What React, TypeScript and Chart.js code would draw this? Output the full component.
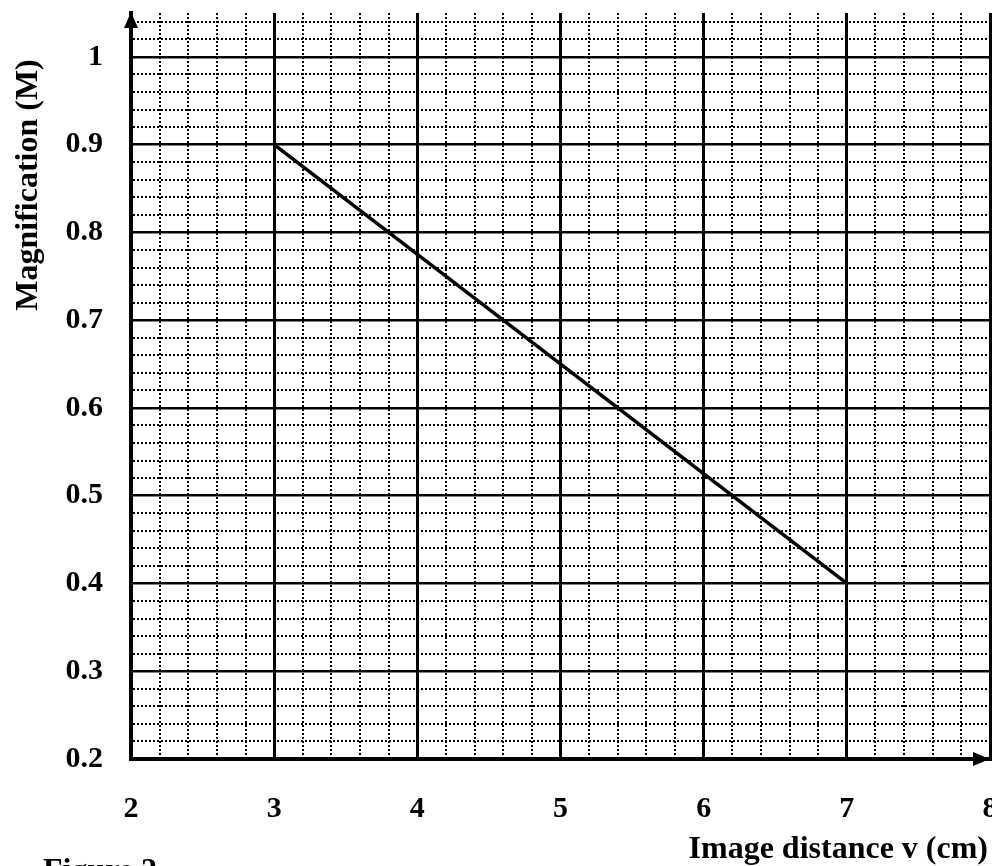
import React, { useEffect, useRef } from "react";
import { Chart, registerables } from "chart.js";

Chart.register(...registerables);

// Data
const imageDistance = [3, 7];
const magnification = [0.9, 0.4];

// Axes
const xMin = 2;
const xMax = 8;
const xMinorStep = 0.2;
const xLabelTicks = [2, 3, 4, 5, 6, 7, 8];

const yMin = 0.2;
const yMax = 1.05;
const yMinorStep = 0.02;
const yLabelTicks = [0.2, 0.3, 0.4, 0.5, 0.6, 0.7, 0.8, 0.9, 1.0];
const yLabelTexts = ["0.2", "0.3", "0.4", "0.5", "0.6", "0.7", "0.8", "0.9", "1"];

const xTitle = "Image distance v (cm)";
const yTitle = "Magnification (M)";
const figureCaption = "Figure 2";

const FONT = "'Liberation Serif', 'Times New Roman', serif";

const near = (a: number, b: number) => Math.abs(a - b) < 1e-6;
const isXMajor = (v: number) => xLabelTicks.some((t) => near(t, v));
const isYMajor = (v: number) => yLabelTicks.some((t) => near(t, v));

function buildTicks(min: number, max: number, step: number) {
  const out: { value: number }[] = [];
  const n = Math.floor((max - min) / step + 1e-6);
  for (let i = 0; i <= n; i++) {
    out.push({ value: Math.round((min + i * step) * 1000) / 1000 });
  }
  return out;
}

const zeroPad = (scale: any) => {
  scale.paddingLeft = 0;
  scale.paddingRight = 0;
  scale.paddingTop = 0;
  scale.paddingBottom = 0;
};

const decorPlugin = {
  id: "decor",
  afterDraw(chart: any) {
    const { ctx, scales } = chart;
    const x = scales.x;
    const y = scales.y;
    const left = x.left;
    const right = x.right;
    const top = y.top;
    const bottom = y.bottom;
    ctx.save();
    ctx.fillStyle = "#000";
    // top arrow
    ctx.beginPath();
    ctx.moveTo(left, top - 1);
    ctx.lineTo(left - 7, top + 15);
    ctx.lineTo(left + 7, top + 15);
    ctx.closePath();
    ctx.fill();
    // right arrow
    ctx.beginPath();
    ctx.moveTo(right, bottom);
    ctx.lineTo(right - 17, bottom - 7);
    ctx.lineTo(right - 17, bottom + 7);
    ctx.closePath();
    ctx.fill();

    // titles
    ctx.font = `bold 32px ${FONT}`;
    ctx.textAlign = "right";
    ctx.textBaseline = "alphabetic";
    ctx.fillText(xTitle, 988, 858);

    ctx.save();
    ctx.translate(37, 185);
    ctx.rotate(-Math.PI / 2);
    ctx.textAlign = "center";
    ctx.fillText(yTitle, 0, 0);
    ctx.restore();

    ctx.textAlign = "left";
    ctx.fillText(figureCaption, 43, 880);
    ctx.restore();
  },
};

export default function App() {
  const canvasRef = useRef<HTMLCanvasElement | null>(null);

  useEffect(() => {
    document.body.style.margin = "0";
    const canvas = canvasRef.current;
    if (!canvas) return;
    const chart = new Chart(canvas, {
      type: "line",
      data: {
        datasets: [
          {
            data: imageDistance.map((v, i) => ({ x: v, y: magnification[i] })),
            borderColor: "#000",
            borderWidth: 3.5,
            pointRadius: 0,
            fill: false,
            tension: 0,
          },
        ],
      },
      plugins: [decorPlugin],
      options: {
        animation: false,
        responsive: false,
        maintainAspectRatio: false,
        layout: { autoPadding: false, padding: { top: 13, right: 2, left: 0, bottom: 0 } },
        plugins: { legend: { display: false }, tooltip: { enabled: false }, title: { display: false } },
        scales: {
          x: {
            type: "linear",
            min: xMin,
            max: xMax,
            afterBuildTicks: (scale: any) => {
              scale.ticks = buildTicks(xMin, xMax, xMinorStep);
            },
            afterFit: (scale: any) => {
              scale.height = 107;
              zeroPad(scale);
            },
            ticks: {
              autoSkip: false,
              maxRotation: 0,
              minRotation: 0,
              padding: 32,
              color: "#000",
              font: { family: FONT, size: 30, weight: "bold" },
              callback: (v: any) => {
                const n = Number(v);
                return isXMajor(n) ? String(Math.round(n)) : "";
              },
            },
            grid: {
              drawTicks: false,
              color: "#000",
              lineWidth: (c: any) => (c.tick && isXMajor(c.tick.value) ? 3 : 2),
            },
            border: {
              display: true,
              color: "#000",
              width: 4,
              dash: (c: any) => (c.tick && isXMajor(c.tick.value) ? [] : [2, 2]),
            },
          },
          y: {
            type: "linear",
            min: yMin,
            max: yMax,
            afterBuildTicks: (scale: any) => {
              scale.ticks = buildTicks(yMin, yMax, yMinorStep);
            },
            afterFit: (scale: any) => {
              scale.width = 131;
              zeroPad(scale);
            },
            ticks: {
              autoSkip: false,
              padding: 28,
              color: "#000",
              font: { family: FONT, size: 30, weight: "bold" },
              callback: (v: any) => {
                const n = Number(v);
                const idx = yLabelTicks.findIndex((t) => near(t, n));
                return idx >= 0 ? yLabelTexts[idx] : "";
              },
            },
            grid: {
              drawTicks: false,
              color: "#000",
              lineWidth: (c: any) => (c.tick && isYMajor(c.tick.value) ? 2.5 : 2),
            },
            border: {
              display: true,
              color: "#000",
              width: 4,
              dash: (c: any) => (c.tick && isYMajor(c.tick.value) ? [] : [2, 2]),
            },
          },
        },
      },
    } as any);
    return () => chart.destroy();
  }, []);

  return (
    <div style={{ width: 992, height: 866, background: "#fff" }}>
      <canvas ref={canvasRef} width={992} height={866} style={{ display: "block" }} />
    </div>
  );
}
